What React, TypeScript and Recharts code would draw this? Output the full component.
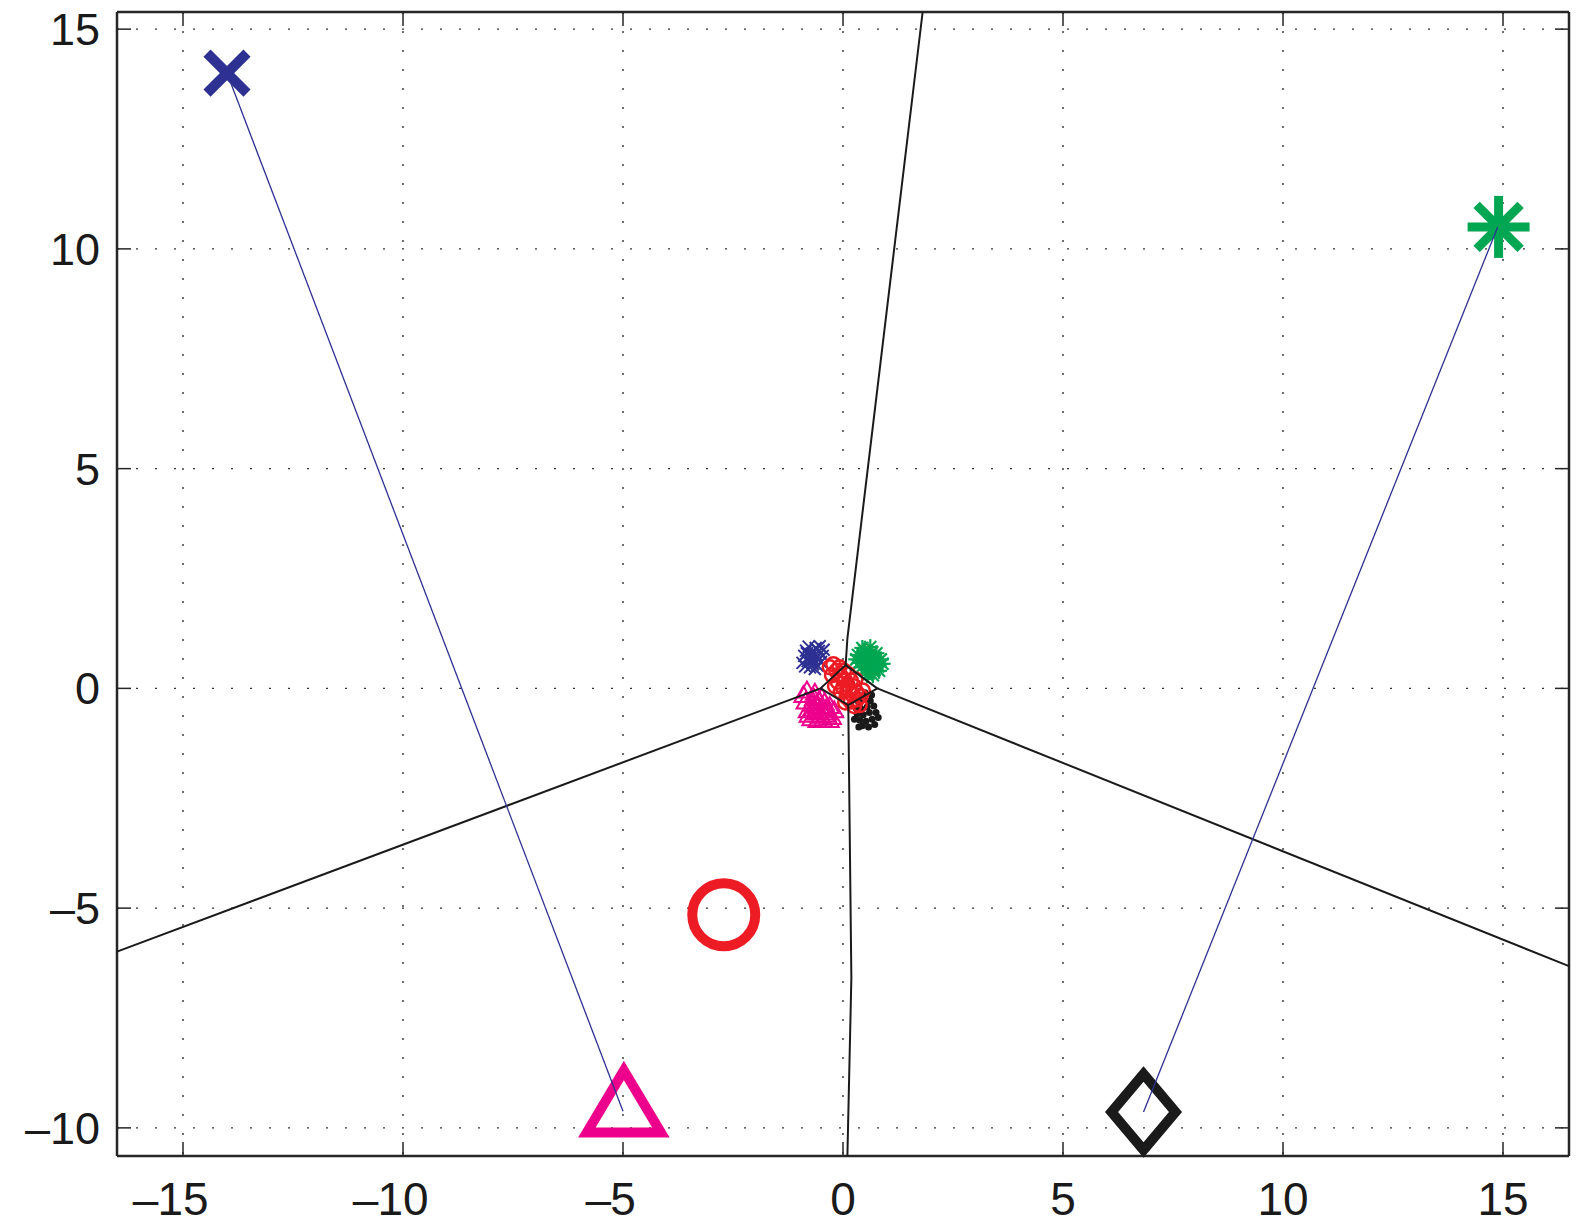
import React from 'react';
import { ScatterChart, Scatter, XAxis, YAxis, CartesianGrid } from 'recharts';

// Axis ranges and ticks
const xTicks = [-15, -10, -5, 0, 5, 10, 15];
const yTicks = [-10, -5, 0, 5, 10, 15];
const xDomain: [number, number] = [-16.5, 16.5];
const yDomain: [number, number] = [-10.64, 15.39];

// Large prototype markers
const protoCross = [{ x: -14.0, y: 14.0 }];
const protoStar = [{ x: 14.9, y: 10.5 }];
const protoCircle = [{ x: -2.71, y: -5.15 }];
const protoTriangle = [{ x: -4.98, y: -9.4 }];
const protoDiamond = [{ x: 6.83, y: -9.64 }];

// Small clustered samples near origin
const blueCluster = [
  { x: -0.72, y: 0.78 }, { x: -0.6, y: 0.7 }, { x: -0.8, y: 0.62 }, { x: -0.55, y: 0.85 },
  { x: -0.68, y: 0.55 }, { x: -0.88, y: 0.74 }, { x: -0.62, y: 0.92 }, { x: -0.5, y: 0.6 },
  { x: -0.75, y: 0.48 }, { x: -0.66, y: 0.66 }, { x: -0.84, y: 0.86 }, { x: -0.58, y: 0.52 },
  { x: -0.7, y: 0.8 }, { x: -0.46, y: 0.74 }, { x: -0.92, y: 0.58 }, { x: -0.64, y: 0.44 },
  { x: -0.78, y: 0.95 }, { x: -0.53, y: 0.96 }, { x: -0.71, y: 0.62 }, { x: -0.62, y: 0.78 },
  { x: -0.86, y: 0.5 }, { x: -0.44, y: 0.88 }, { x: -0.74, y: 0.7 }, { x: -0.57, y: 0.66 },
  { x: -0.82, y: 0.8 },
];
const greenCluster = [
  { x: 0.45, y: 0.7 }, { x: 0.6, y: 0.55 }, { x: 0.72, y: 0.68 }, { x: 0.52, y: 0.42 },
  { x: 0.38, y: 0.58 }, { x: 0.66, y: 0.82 }, { x: 0.8, y: 0.5 }, { x: 0.48, y: 0.86 },
  { x: 0.58, y: 0.62 }, { x: 0.7, y: 0.38 }, { x: 0.34, y: 0.76 }, { x: 0.86, y: 0.66 },
  { x: 0.55, y: 0.3 }, { x: 0.42, y: 0.48 }, { x: 0.62, y: 0.94 }, { x: 0.76, y: 0.8 },
  { x: 0.5, y: 0.62 }, { x: 0.9, y: 0.56 }, { x: 0.3, y: 0.66 }, { x: 0.64, y: 0.46 },
  { x: 0.44, y: 0.92 }, { x: 0.74, y: 0.58 }, { x: 0.56, y: 0.76 }, { x: 0.68, y: 0.3 },
  { x: 0.82, y: 0.4 },
];
const redCluster = [
  { x: -0.3, y: 0.48 }, { x: -0.22, y: 0.55 }, { x: -0.15, y: 0.4 }, { x: -0.25, y: 0.3 },
  { x: -0.08, y: 0.48 }, { x: -0.05, y: 0.28 }, { x: 0.02, y: 0.4 }, { x: -0.12, y: 0.15 },
  { x: 0.05, y: 0.18 }, { x: 0.12, y: 0.32 }, { x: 0.0, y: 0.02 }, { x: 0.1, y: 0.08 },
  { x: 0.18, y: 0.18 }, { x: -0.05, y: -0.08 }, { x: 0.15, y: -0.05 }, { x: 0.25, y: 0.05 },
  { x: 0.08, y: -0.2 }, { x: 0.22, y: -0.15 }, { x: 0.3, y: -0.08 }, { x: 0.18, y: -0.3 },
  { x: 0.32, y: -0.25 }, { x: 0.4, y: -0.18 }, { x: 0.25, y: -0.4 }, { x: 0.38, y: -0.38 },
  { x: 0.05, y: -0.32 }, { x: -0.18, y: 0.05 }, { x: 0.28, y: 0.2 }, { x: 0.45, y: -0.05 },
];
const magentaCluster = [
  { x: -0.7, y: -0.35 }, { x: -0.5, y: -0.45 }, { x: -0.4, y: -0.6 }, { x: -0.62, y: -0.55 },
  { x: -0.8, y: -0.5 }, { x: -0.3, y: -0.4 }, { x: -0.55, y: -0.28 }, { x: -0.45, y: -0.7 },
  { x: -0.72, y: -0.68 }, { x: -0.35, y: -0.55 }, { x: -0.6, y: -0.4 }, { x: -0.85, y: -0.3 },
  { x: -0.25, y: -0.65 }, { x: -0.5, y: -0.62 }, { x: -0.66, y: -0.22 }, { x: -0.42, y: -0.32 },
  { x: -0.78, y: -0.6 }, { x: -0.2, y: -0.5 }, { x: -0.58, y: -0.72 }, { x: -0.38, y: -0.46 },
  { x: -0.9, y: -0.15 }, { x: -0.48, y: -0.2 }, { x: -0.68, y: -0.46 }, { x: -0.3, y: -0.72 },
  { x: -0.55, y: -0.52 }, { x: -0.82, y: -0.05 }, { x: -0.64, y: -0.1 },
];
const blackCluster = [
  { x: 0.35, y: -0.3 }, { x: 0.48, y: -0.25 }, { x: 0.62, y: -0.28 }, { x: 0.4, y: -0.45 },
  { x: 0.55, y: -0.42 }, { x: 0.7, y: -0.4 }, { x: 0.32, y: -0.58 }, { x: 0.46, y: -0.6 },
  { x: 0.6, y: -0.55 }, { x: 0.75, y: -0.55 }, { x: 0.38, y: -0.72 }, { x: 0.52, y: -0.75 },
  { x: 0.66, y: -0.7 }, { x: 0.44, y: -0.85 }, { x: 0.58, y: -0.88 }, { x: 0.72, y: -0.82 },
  { x: 0.3, y: -0.45 }, { x: 0.8, y: -0.66 }, { x: 0.5, y: -0.1 }, { x: 0.65, y: -0.15 },
  { x: 0.36, y: -0.88 }, { x: 0.26, y: -0.7 },
];

// Decision boundaries (black)
const topBoundary = [{ x: 1.81, y: 15.39 }, { x: 0.1, y: 1.14 }, { x: 0.06, y: 0.53 }];
const leftBoundary = [{ x: -16.5, y: -5.99 }, { x: -0.51, y: 0.0 }];
const rightBoundary = [{ x: 16.5, y: -6.32 }, { x: 0.78, y: 0.0 }];
const bottomBoundary = [{ x: 0.12, y: -0.38 }, { x: 0.19, y: -6.59 }, { x: 0.1, y: -10.64 }];
const centerCell = [
  { x: -0.51, y: 0.0 }, { x: 0.06, y: 0.53 }, { x: 0.78, y: 0.0 }, { x: 0.12, y: -0.38 }, { x: -0.51, y: 0.0 },
];

// Thin blue links between prototypes
const linkLeft = [{ x: -14.0, y: 14.0 }, { x: -5.0, y: -9.62 }];
const linkRight = [{ x: 14.88, y: 10.5 }, { x: 6.83, y: -9.64 }];

const BLUE = '#2E3192';
const GREEN = '#00A651';
const RED = '#ED1C24';
const MAGENTA = '#EC008C';
const BLACK = '#1A1A1A';
const AXIS = '#262626';
const FONT = '"Liberation Sans", Arial, Helvetica, sans-serif';
const TICK_LEN = 14;

const BottomTick = (props: any) => {
  const { x, y, payload } = props;
  const v = payload.value as number;
  const digits = String(Math.abs(v));
  const fs = 46;
  const w = digits.length * 0.556 * fs;
  return (
    <g>
      <line x1={x} y1={y} x2={x} y2={y - TICK_LEN} stroke={AXIS} strokeWidth={1.5} />
      <text x={x} y={y + 59} textAnchor="middle" fontSize={fs} fontFamily={FONT} fill={BLACK}>
        {digits}
      </text>
      {v < 0 && (
        <text x={x - w / 2 + 1} y={y + 59} textAnchor="end" fontSize={fs} fontFamily={FONT} fill={BLACK}>
          –
        </text>
      )}
    </g>
  );
};

const LeftTick = (props: any) => {
  const { x, y, payload } = props;
  const v = payload.value as number;
  const label = v < 0 ? `–${Math.abs(v)}` : String(v);
  return (
    <g>
      <line x1={x} y1={y} x2={x + TICK_LEN} y2={y} stroke={AXIS} strokeWidth={1.5} />
      <text x={x - 17} y={y + 16} textAnchor="end" fontSize={45} fontFamily={FONT} fill={BLACK}>
        {label}
      </text>
    </g>
  );
};

const TopTick = (props: any) => {
  const { x, y } = props;
  return <line x1={x} y1={y} x2={x} y2={y + TICK_LEN} stroke={AXIS} strokeWidth={1.5} />;
};

const RightTick = (props: any) => {
  const { x, y } = props;
  return <line x1={x} y1={y} x2={x - TICK_LEN} y2={y} stroke={AXIS} strokeWidth={1.5} />;
};

// Marker shapes
const BigCross = ({ cx, cy }: any) => (
  <g stroke={BLUE} strokeWidth={10} fill="none">
    <line x1={cx - 20} y1={cy - 20} x2={cx + 20} y2={cy + 20} />
    <line x1={cx - 20} y1={cy + 20} x2={cx + 20} y2={cy - 20} />
  </g>
);

const BigStar = ({ cx, cy }: any) => (
  <g stroke={GREEN} strokeWidth={9} fill="none">
    <line x1={cx} y1={cy - 31} x2={cx} y2={cy + 31} />
    <line x1={cx - 31} y1={cy} x2={cx + 31} y2={cy} />
    <line x1={cx - 22} y1={cy - 22} x2={cx + 22} y2={cy + 22} />
    <line x1={cx - 22} y1={cy + 22} x2={cx + 22} y2={cy - 22} />
  </g>
);

const BigCircle = ({ cx, cy }: any) => (
  <circle cx={cx} cy={cy} r={31.5} stroke={RED} strokeWidth={10} fill="none" />
);

const BigTriangle = ({ cx, cy }: any) => (
  <path
    d={`M${cx},${cy - 31} L${cx + 37},${cy + 31} L${cx - 37},${cy + 31} Z`}
    stroke={MAGENTA}
    strokeWidth={10}
    strokeLinejoin="miter"
    fill="none"
  />
);

const BigDiamond = ({ cx, cy }: any) => (
  <path
    d={`M${cx},${cy - 38} L${cx + 32},${cy} L${cx},${cy + 38} L${cx - 32},${cy} Z`}
    stroke={BLACK}
    strokeWidth={10}
    strokeLinejoin="miter"
    fill="none"
  />
);

const SmallCross = ({ cx, cy }: any) => (
  <g stroke={BLUE} strokeWidth={2}>
    <line x1={cx - 6} y1={cy - 6} x2={cx + 6} y2={cy + 6} />
    <line x1={cx - 6} y1={cy + 6} x2={cx + 6} y2={cy - 6} />
  </g>
);

const SmallStar = ({ cx, cy }: any) => (
  <g stroke={GREEN} strokeWidth={2.2}>
    <line x1={cx} y1={cy - 8} x2={cx} y2={cy + 8} />
    <line x1={cx - 8} y1={cy} x2={cx + 8} y2={cy} />
    <line x1={cx - 6} y1={cy - 6} x2={cx + 6} y2={cy + 6} />
    <line x1={cx - 6} y1={cy + 6} x2={cx + 6} y2={cy - 6} />
  </g>
);

const SmallCircle = ({ cx, cy }: any) => (
  <circle cx={cx} cy={cy} r={7} stroke={RED} strokeWidth={2.5} fill="none" />
);

const SmallTriangle = ({ cx, cy }: any) => (
  <path
    d={`M${cx},${cy - 9} L${cx + 9},${cy + 7} L${cx - 9},${cy + 7} Z`}
    stroke={MAGENTA}
    strokeWidth={2}
    fill="none"
  />
);

const SmallDot = ({ cx, cy }: any) => <circle cx={cx} cy={cy} r={3.5} fill={BLACK} />;

const NoShape = () => <g />;

export default function App() {
  return (
    <div style={{ position: 'absolute', left: 0, top: 0, background: '#fff' }}>
      <ScatterChart width={1589} height={1225} margin={{ top: 11, right: 19, bottom: 0, left: 0 }}>
        <CartesianGrid stroke="#333" strokeWidth={1.4} strokeDasharray="2 17" />
        <XAxis
          dataKey="x"
          type="number"
          domain={xDomain}
          ticks={xTicks}
          height={69}
          tickSize={0}
          tickMargin={0}
          tickLine={false}
          axisLine={{ stroke: AXIS, strokeWidth: 2.5 }}
          tick={<BottomTick />}
        />
        <XAxis
          xAxisId="top"
          orientation="top"
          dataKey="x"
          type="number"
          domain={xDomain}
          ticks={xTicks}
          height={1}
          tickSize={0}
          tickMargin={0}
          tickLine={false}
          axisLine={{ stroke: AXIS, strokeWidth: 2.5 }}
          tick={<TopTick />}
        />
        <YAxis
          dataKey="y"
          type="number"
          domain={yDomain}
          ticks={yTicks}
          width={117}
          tickSize={0}
          tickMargin={0}
          tickLine={false}
          axisLine={{ stroke: AXIS, strokeWidth: 2.5 }}
          tick={<LeftTick />}
        />
        <YAxis
          yAxisId="right"
          orientation="right"
          dataKey="y"
          type="number"
          domain={yDomain}
          ticks={yTicks}
          width={1}
          tickSize={0}
          tickMargin={0}
          tickLine={false}
          axisLine={{ stroke: AXIS, strokeWidth: 2.5 }}
          tick={<RightTick />}
        />

        {/* invisible series bound to the top/right axes */}
        <Scatter
          data={protoCircle}
          xAxisId="top"
          yAxisId="right"
          shape={NoShape}
          isAnimationActive={false}
        />

        <Scatter data={protoCross} shape={BigCross} isAnimationActive={false} />
        <Scatter data={protoStar} shape={BigStar} isAnimationActive={false} />
        <Scatter data={protoCircle} shape={BigCircle} isAnimationActive={false} />
        <Scatter data={protoTriangle} shape={BigTriangle} isAnimationActive={false} />
        <Scatter data={protoDiamond} shape={BigDiamond} isAnimationActive={false} />

        <Scatter data={magentaCluster} shape={SmallTriangle} isAnimationActive={false} />
        <Scatter data={blueCluster} shape={SmallCross} isAnimationActive={false} />
        <Scatter data={greenCluster} shape={SmallStar} isAnimationActive={false} />
        <Scatter data={blackCluster} shape={SmallDot} isAnimationActive={false} />
        <Scatter data={redCluster} shape={SmallCircle} isAnimationActive={false} />

        {[topBoundary, leftBoundary, rightBoundary, bottomBoundary, centerCell].map((seg, i) => (
          <Scatter
            key={`b${i}`}
            data={seg}
            line={{ stroke: BLACK, strokeWidth: 2 }}
            lineType="joint"
            shape={NoShape}
            isAnimationActive={false}
          />
        ))}
        {[linkLeft, linkRight].map((seg, i) => (
          <Scatter
            key={`l${i}`}
            data={seg}
            line={{ stroke: BLUE, strokeWidth: 1.3 }}
            lineType="joint"
            shape={NoShape}
            isAnimationActive={false}
          />
        ))}
      </ScatterChart>
    </div>
  );
}
